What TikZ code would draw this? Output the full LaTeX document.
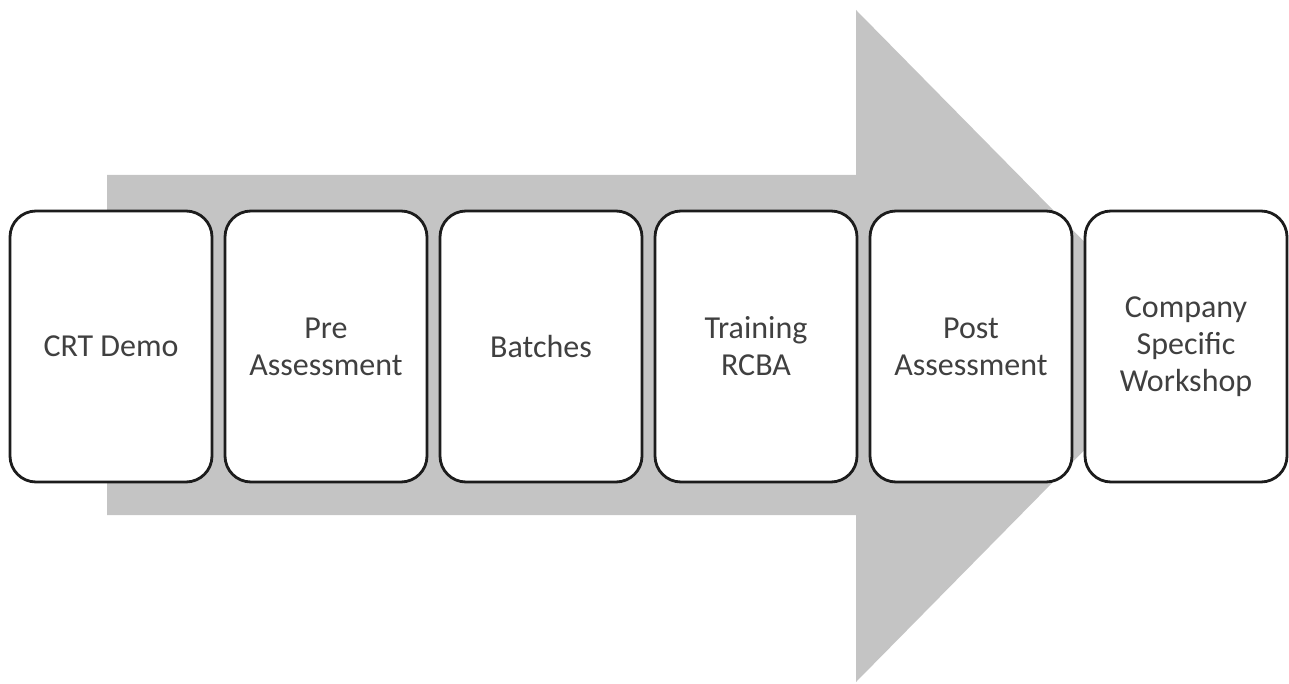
\documentclass[tikz,border=0pt]{standalone}
\usepackage{fontspec}
\setmainfont{Carlito}
\definecolor{arrowgray}{HTML}{C4C4C4}
\definecolor{boxline}{HTML}{1C1C1C}
\definecolor{txt}{HTML}{404040}
\begin{document}
\begin{tikzpicture}[x=1pt,y=1pt,
  stagebox/.style={draw=boxline, line width=2.8pt, fill=white, rounded corners=26pt,
    minimum width=202pt, minimum height=271pt, inner sep=0pt,
    align=center, text=txt, font=\fontsize{32}{37}\selectfont}]
\useasboundingbox (0,0) rectangle (1289,683);
% big gray arrow
\fill[arrowgray] (107,508) -- (856,508) -- (856,673) -- (1187,337) -- (856,1) -- (856,168) -- (107,168) -- cycle;
% stage boxes
\node[stagebox] (b1) at (111,336.5) {CRT Demo};
\node[stagebox] (b2) at (326,336.5) {Pre\\Assessment};
\node[stagebox] (b3) at (541,336.5) {Batches};
\node[stagebox] (b4) at (756,336.5) {Training\\RCBA};
\node[stagebox] (b5) at (971,336.5) {Post\\Assessment};
\node[stagebox] (b6) at (1186,336.5) {Company\\Specific\\Workshop};
\end{tikzpicture}
\end{document}
